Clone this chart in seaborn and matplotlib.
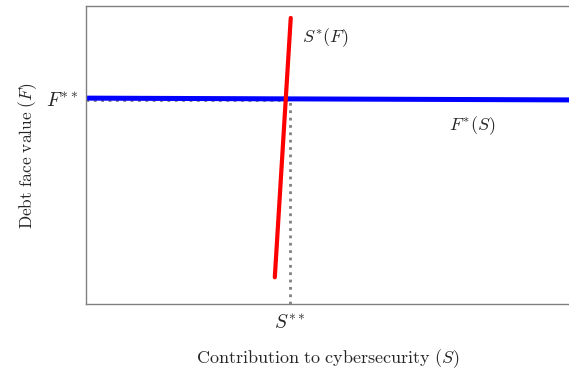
import matplotlib
matplotlib.use('Agg')
import matplotlib.pyplot as plt
import seaborn as sns
import pandas as pd

# Equilibrium point
s_eq = 0.422
f_eq = 0.688

# Best response curves (endpoints)
s_star_x = [0.391, 0.424]   # S*(F): contribution
s_star_y = [0.09, 0.96]     # as F varies
f_star_x = [0.0, 1.0]       # F*(S)
f_star_y = [0.691, 0.685]

sns.set_style('white')
plt.rcParams['mathtext.fontset'] = 'cm'
plt.rcParams['font.family'] = ['DejaVu Serif']

fig = plt.figure(figsize=(5.69, 3.75), dpi=100)
ax = fig.add_axes([0.151, 0.189, 0.849, 0.795])

# Dotted guides to the equilibrium
ax.plot([0, s_eq], [f_eq - 0.004, f_eq - 0.004], color='gray', linestyle=':', linewidth=2, zorder=1)
ax.plot([s_eq, s_eq], [0, f_eq], color='gray', linestyle=':', linewidth=2, zorder=1)

blue = pd.DataFrame({'S': f_star_x, 'F': f_star_y})
red = pd.DataFrame({'S': s_star_x, 'F': s_star_y})
sns.lineplot(data=blue, x='S', y='F', color='blue', linewidth=3.6, ax=ax, zorder=2, sort=False)
sns.lineplot(data=red, x='S', y='F', color='red', linewidth=3, ax=ax, zorder=3, sort=False)

ax.text(0.447, 0.895, r'$S^{*}(F)$', fontsize=13, va='center', ha='left')
ax.text(0.80, 0.60, r'$F^{*}(S)$', fontsize=13, va='center', ha='center')

ax.set_xlim(0, 1)
ax.set_ylim(0, 1)
ax.set_xticks([s_eq])
ax.set_xticklabels([r'$S^{**}$'], fontsize=14)
ax.set_yticks([f_eq])
ax.set_yticklabels([r'$F^{**}$'], fontsize=14)
ax.tick_params(direction='in', length=4, color='gray', width=1.5)
ax.tick_params(axis='x', pad=7)
ax.tick_params(axis='y', pad=6)

ax.set_xlabel(r'$\mathrm{Contribution\ to\ cybersecurity}\ (S)$', fontsize=13, labelpad=11)
ax.set_ylabel(r'$\mathrm{Debt\ face\ value}\ (F)$', fontsize=12.5, labelpad=5)

for side in ['left', 'bottom', 'top']:
    ax.spines[side].set_color('gray')
    ax.spines[side].set_linewidth(1)
ax.spines['right'].set_visible(False)

fig.savefig('out.png', dpi=100)
